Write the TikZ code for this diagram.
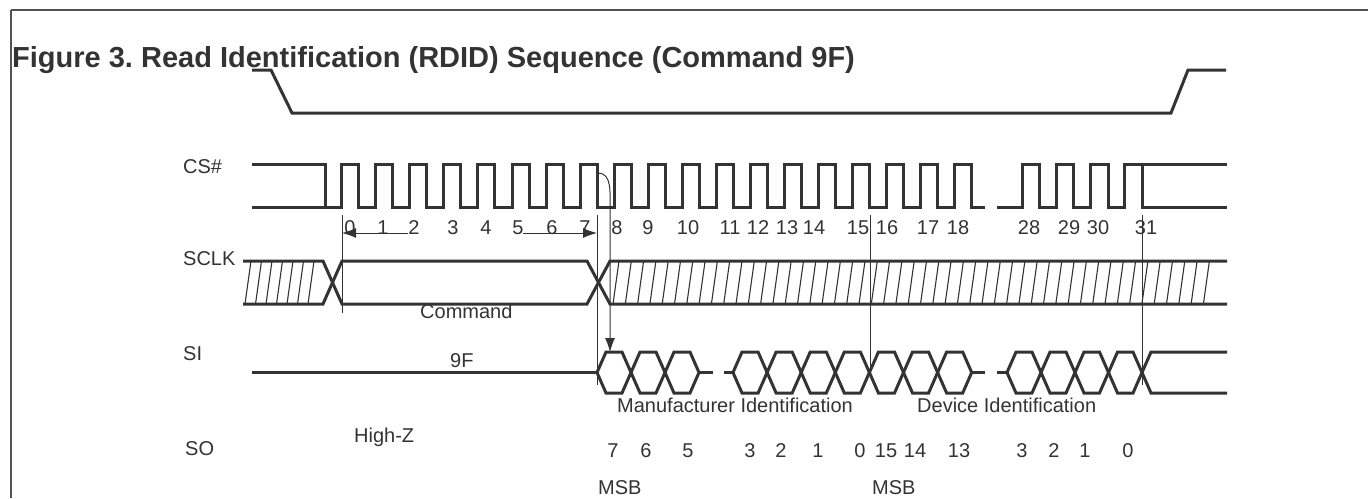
\documentclass[tikz,border=0pt]{standalone}
\usepackage{fontspec}
\setmainfont{Liberation Sans}
\usetikzlibrary{arrows.meta}
\definecolor{ink}{HTML}{333333}
\frenchspacing
\tikzset{
    sig-line/.style = {draw=ink, line width=3pt},
    thin-line/.style = {draw=ink, line width=1pt},
    hatch-line/.style = {draw=ink, line width=1.1pt},
    frame-line/.style = {draw=ink!85, line width=2pt},
    sig-label/.style = {anchor=base west, inner sep=0pt, text=ink, font=\fontsize{20}{24}\selectfont},
    bit-label/.style = {anchor=base, inner sep=0pt, text=ink, font=\fontsize{20}{24}\selectfont},
    title-label/.style = {anchor=base west, inner sep=0pt, text=ink, font=\fontsize{29}{34}\selectfont\bfseries},
    tip/.style = {-{Latex[length=14pt,width=10pt]}},
}

\begin{document}
\begin{tikzpicture}[x=1pt, y=-1pt]
\useasboundingbox (0,0) rectangle (1368,498);
\draw[frame-line] (11,10) -- (1368,10);
\draw[frame-line] (11,10) -- (11,498);
\node[title-label] (title) at (12,67) {Figure 3. Read Identification (RDID) Sequence (Command 9F)};

% signal names
\node[sig-label] (cs-label) at (183,173) {CS\#};
\node[sig-label] (sclk-label) at (183,265) {SCLK};
\node[sig-label] (si-label) at (183,360) {SI};
\node[sig-label] (so-label) at (185,455) {SO};

% chip select
\draw[sig-line] (252,70) -- (271,70) -- (292,113) -- (1171,113) -- (1188,70) -- (1226,70);

% clock
\draw[sig-line] (252,164) -- (325,164) -- (325,207);
\draw[sig-line] (252,207) \foreach \k in {0,...,18} { -- ({341.7+34.07*\k},207) -- ++(0,-43) -- ++(17,0) -- ++(0,43) } -- (985,207);
\draw[sig-line] (997,207) \foreach \k in {0,...,3} { -- ({1022+34.3*\k},207) -- ++(0,-43) -- ++(17.5,0) -- ++(0,43) } -- (1227,207);
\draw[sig-line] (1142.4,164) -- (1227,164);
\foreach \n/\x in {0/350,1/383,2/414,3/453,4/486,5/518,6/552,7/585,8/617,9/648,10/688,11/730,12/758,13/787,14/814,15/858,16/887,17/928,18/958,28/1029,29/1069,30/1098,31/1146}
    \node[bit-label] (clk-\n) at (\x,234) {\n};

% command bus
\draw[sig-line] (243,261) -- (323,261) -- (342,304) -- (587,304) -- (610,261) -- (1227,261);
\draw[sig-line] (243,304) -- (323,304) -- (342,261) -- (587,261) -- (610,304) -- (1227,304);
\foreach \x in {245,255.5,...,316}
    \draw[hatch-line] (\x,304) -- ++(6,-43);
\foreach \x in {613,625.3,...,1208}
    \draw[hatch-line] (\x,304) -- ++(6,-43);
\node[sig-label] (command) at (420,318) {Command};

% data out
\draw[sig-line] (252,372.5) -- (597,372.5);
\foreach \a/\b in {597/631,631/665,665/699,733/767.1,767.1/801.2,801.2/835.3,835.3/869.4,869.4/903.5,903.5/937.6,937.6/971.7,1007/1041,1041/1075,1075/1108.5,1108.5/1142}
    \draw[sig-line] (\a,372.5) -- (\a+9,352) -- (\b-9,352) -- (\b,372.5) -- (\b-9,393) -- (\a+9,393) -- cycle;
\draw[sig-line] (699,372.5) -- (713,372.5);
\draw[sig-line] (724,372.5) -- (733,372.5);
\draw[sig-line] (971.7,372.5) -- (985,372.5);
\draw[sig-line] (997,372.5) -- (1007,372.5);
\draw[sig-line] (1227,352) -- (1151,352) -- (1142,372.5) -- (1151,393) -- (1227,393);
\node[sig-label] (cmd-code) at (450,367) {9F};
\node[sig-label] (mfr-id) at (617,412) {Manufacturer Identification};
\node[sig-label] (dev-id) at (917,412) {Device Identification};
\node[sig-label] (highz) at (354,442) {High-Z};
\foreach \n/\x [count=\i] in {7/613,6/646,5/688,3/750,2/781,1/818,0/860,15/886,14/915,13/959,3/1022,2/1054,1/1085,0/1128}
    \node[bit-label] (so-bit-\i) at (\x,457) {\n};
\node[sig-label] (msb-mfr) at (598,494) {MSB};
\node[sig-label] (msb-dev) at (872,494) {MSB};

% timing marks
\coordinate (edge-7) at (598,173);
\coordinate (first-bit) at (610,352);
\draw[thin-line] (342,215) -- (342,313);
\draw[thin-line] (597,215) -- (597,385);
\draw[thin-line] (870,215) -- (870,372);
\draw[thin-line] (1142,215) -- (1142,385);
\draw[thin-line, tip] (edge-7) to[out=0, in=90] (610,207) -- (first-bit);
\draw[thin-line, tip] (408,233) -- (342,233);
\draw[thin-line, tip] (523,233) -- (597,233);
\end{tikzpicture}
\end{document}
